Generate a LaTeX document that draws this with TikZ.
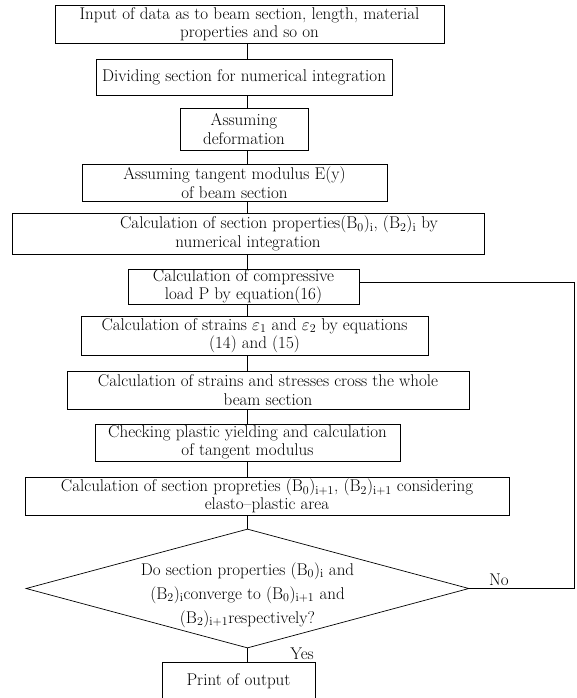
\documentclass[tikz,border=0pt]{standalone}
\usetikzlibrary{shapes.geometric}
\begin{document}
\begin{tikzpicture}[x=1pt,y=-1pt,
  txt/.style={font=\fontsize{17}{18.5}\selectfont},
  box/.style={draw,line width=0.7pt,inner sep=0pt,align=center,txt},
  conn/.style={line width=0.7pt},
  lbl/.style={inner sep=0pt,txt}]
\useasboundingbox (0,0) rectangle (576,698);
\coordinate (ax) at (247.5,0);
\node[box,minimum width=389pt,minimum height=38pt] (b1) at (249.5,24)
  {Input of data as to beam section, length, material\\properties and so on};
\node[box,minimum width=296pt,minimum height=36pt] (b2) at (244,77)
  {Dividing section for numerical integration};
\node[box,minimum width=128pt,minimum height=42pt] (b3) at (244,129)
  {Assuming\\deformation};
\node[box,minimum width=305pt,minimum height=37pt] (b4) at (234.5,182.5)
  {Assuming tangent modulus E(y)\\of beam section};
\node[box,minimum width=472pt,minimum height=41pt] (b5) at (248,233.5)
  {\hspace*{62pt}Calculation of section properties(B$_0$)$_{\mathrm{i}}$, (B$_2$)$_{\mathrm{i}}$ by\\numerical integration};
\node[box,minimum width=231pt,minimum height=35pt] (b6) at (243.5,286.5)
  {Calculation of compressive\\load P by equation(16)};
\node[box,minimum width=347pt,minimum height=39pt] (b7) at (254.5,335.5)
  {Calculation of strains $\varepsilon_1$ and $\varepsilon_2$ by equations\\(14) and (15)};
\node[box,minimum width=402pt,minimum height=38pt] (b8) at (268,390)
  {Calculation of strains and stresses cross the whole\\beam section};
\node[box,minimum width=305pt,minimum height=37pt] (b9) at (247.5,442.5)
  {Checking plastic yielding and calculation\\of tangent modulus};
\node[box,minimum width=484pt,minimum height=38pt] (b10) at (267,496)
  {Calculation of section propreties (B$_0$)$_{\mathrm{i+1}}$, (B$_2$)$_{\mathrm{i+1}}$ considering\\elasto--plastic area};
\node[draw,diamond,line width=0.7pt,inner sep=0pt,minimum width=443pt,minimum height=119pt] (dia) at (247.5,588.5) {};
\node[lbl,align=center,font=\fontsize{17}{24}\selectfont] (dtext) at (247.5,595)
  {Do section properties (B$_0$)$_{\mathrm{i}}$ and\\(B$_2$)$_{\mathrm{i}}$converge to (B$_0$)$_{\mathrm{i+1}}$ and\\(B$_2$)$_{\mathrm{i+1}}$respectively?};
\node[box,minimum width=153pt,minimum height=38pt] (b11) at (238.5,681)
  {Print of output};
\node[lbl,anchor=base east] (yes) at (314,659) {Yes};
\node[lbl,anchor=base] (no) at (499,585) {No};
\coordinate (r1) at (574,282);
\coordinate (r2) at (574,588.5);
\draw[conn] (b1.south -| ax) -- (b2.north -| ax);
\draw[conn] (b2.south -| ax) -- (b3.north -| ax);
\draw[conn] (b3.south -| ax) -- (b4.north -| ax);
\draw[conn] (b4.south -| ax) -- (b5.north -| ax);
\draw[conn] (b5.south -| ax) -- (b6.north -| ax);
\draw[conn] (b6.south -| ax) -- (b7.north -| ax);
\draw[conn] (b7.south -| ax) -- (b8.north -| ax);
\draw[conn] (b8.south -| ax) -- (b9.north -| ax);
\draw[conn] (b9.south -| ax) -- (b10.north -| ax);
\draw[conn] (b10.south -| ax) -- (dia.north);
\draw[conn] (dia.south) -- (b11.north -| ax);
\draw[conn] (b6.east |- r1) -- (r1) -- (r2) -- (dia.east);
\end{tikzpicture}
\end{document}
